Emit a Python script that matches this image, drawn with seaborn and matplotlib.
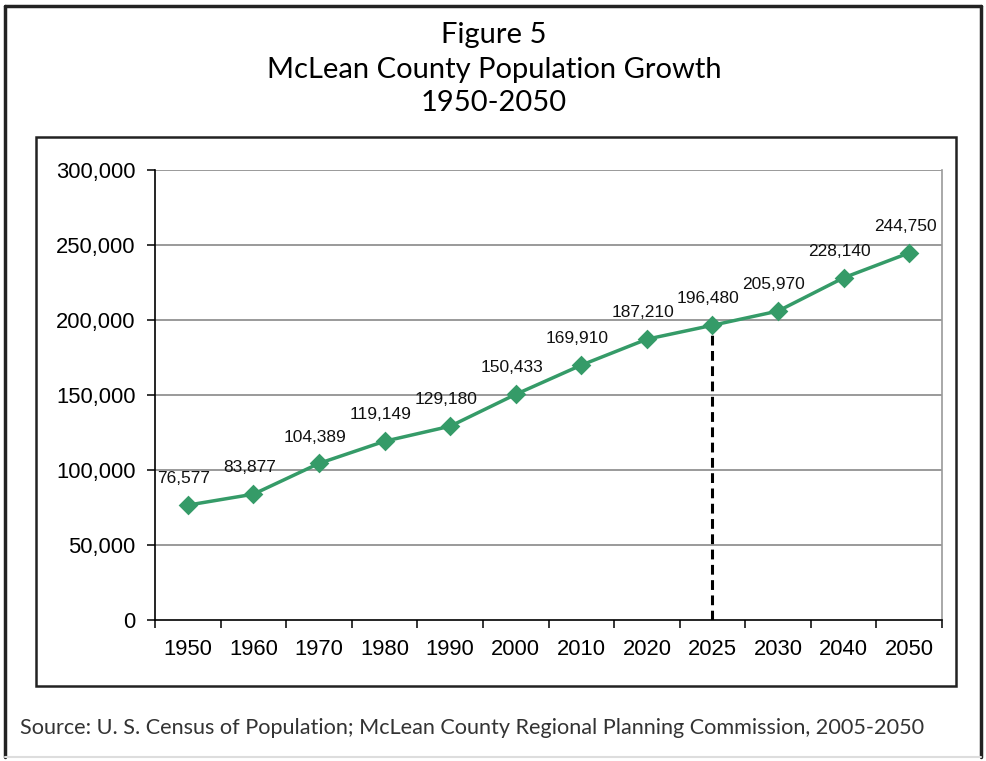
import matplotlib
matplotlib.use("Agg")
import matplotlib.pyplot as plt
import seaborn as sns
import pandas as pd
from matplotlib.patches import Rectangle
from matplotlib.ticker import FuncFormatter, FixedLocator

years = ["1950", "1960", "1970", "1980", "1990", "2000",
         "2010", "2020", "2025", "2030", "2040", "2050"]
population = [76577, 83877, 104389, 119149, 129180, 150433,
              169910, 187210, 196480, 205970, 228140, 244750]
marker_year = "2025"

y_ticks = [0, 50000, 100000, 150000, 200000, 250000, 300000]

title_lines = ["Figure 5", "McLean County Population Growth", "1950-2050"]
source_note = ("Source: U. S. Census of Population; McLean County Regional "
               "Planning Commission, 2005-2050")

line_color = "#359b68"

sns.set_theme(style="white")
plt.rcParams["font.family"] = ["Liberation Sans", "DejaVu Sans"]

df = pd.DataFrame({"year": years, "population": population})

fig = plt.figure(figsize=(9.87, 7.61), dpi=100)
ax = fig.add_axes([155 / 987, 1 - 620 / 761, (942 - 155) / 987, (620 - 170) / 761])

sns.pointplot(data=df, x="year", y="population", color=line_color,
              markers="D", markersize=8, linewidth=2.5, ax=ax, zorder=4)

ax.set_xlim(-0.5, len(years) - 0.5)
ax.set_ylim(0, 300000)
ax.set_xlabel("")
ax.set_ylabel("")

# horizontal gridlines
ax.yaxis.set_major_locator(FixedLocator(y_ticks))
ax.yaxis.set_major_formatter(FuncFormatter(lambda v, p: f"{int(v):,}"))
for v in y_ticks[1:]:
    ax.axhline(v, color="#7f7f7f", lw=1.1, zorder=1)

# category boundary ticks on the x axis
ax.set_xticks(range(len(years)))
ax.set_xticklabels(years)
ax.set_xticks([i - 0.5 for i in range(len(years) + 1)], minor=True)
ax.tick_params(axis="x", which="major", length=0, pad=14, labelsize=15.8, colors="black")
ax.tick_params(axis="x", which="minor", length=6, width=1.1, color="black", direction="out")
ax.tick_params(axis="y", which="major", length=6, width=1.1, color="black",
               direction="out", labelsize=15.8, pad=8, labelcolor="black")
ax.tick_params(bottom=True, left=True, which="both")

ax.spines["top"].set_visible(False)
ax.spines["right"].set_color("#9a9a9a")
ax.spines["right"].set_linewidth(1.2)
for side in ["left", "bottom"]:
    ax.spines[side].set_color("black")
    ax.spines[side].set_linewidth(1.2)

# dashed reference at the 2025 projection
idx = years.index(marker_year)
ax.vlines(idx, 0, population[idx], colors="black", linestyles=(0, (3.2, 1.8)),
          lw=2.2, zorder=3)

# value labels
for i, v in enumerate(population):
    ax.annotate(f"{v:,}", (i, v), xytext=(-3, 19), textcoords="offset points",
                ha="center", va="center", fontsize=12.5, color="#111111")

# titles
for text, ypx in zip(title_lines, [35, 70, 103]):
    fig.text(494 / 987, 1 - ypx / 761, text, ha="center", va="center",
             fontsize=21, family=["Lato", "DejaVu Sans"], color="#000000")

fig.text(20 / 987, 1 - 728 / 761, source_note, ha="left", va="center",
         fontsize=15.6, family=["Lato", "DejaVu Sans"], color="#333333")

# frames
fig.patches.append(Rectangle((36 / 987, 1 - 686 / 761), (956 - 36) / 987,
                             (686 - 137) / 761, transform=fig.transFigure,
                             fill=False, edgecolor="#222222", lw=1.8))
outer_l, outer_r, outer_t, outer_b = 5 / 987, 981 / 987, 1 - 6 / 761, 1 - 757 / 761
fig.add_artist(plt.Line2D([outer_l, outer_l], [outer_b, outer_t], transform=fig.transFigure,
                          color="#222222", lw=2.5))
fig.add_artist(plt.Line2D([outer_r, outer_r], [outer_b, outer_t], transform=fig.transFigure,
                          color="#222222", lw=2.5))
fig.add_artist(plt.Line2D([outer_l, outer_r], [outer_t, outer_t], transform=fig.transFigure,
                          color="#222222", lw=2.5))
fig.add_artist(plt.Line2D([outer_l, outer_r], [outer_b, outer_b], transform=fig.transFigure,
                          color="#dddddd", lw=1.5))

fig.savefig("out.png", dpi=100, facecolor="white")
